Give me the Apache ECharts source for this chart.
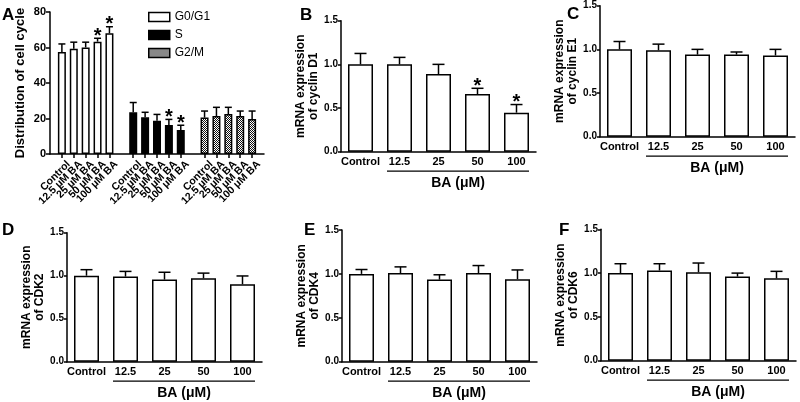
<!DOCTYPE html>
<html><head><meta charset="utf-8">
<script src="https://cdn.jsdelivr.net/npm/echarts@6/dist/echarts.min.js"></script>
<style>html,body{margin:0;padding:0;background:#fff}#c{width:800px;height:402px}</style>
</head><body><div id="c"></div>
<script>
// ---------- Panel A data ----------
const aGroups = ['G0/G1', 'S', 'G2/M'];
const aCats = ['Control', '12.5 μM BA', '25 μM BA', '50 μM BA', '100 μM BA'];
const g0g1 = [57.5, 59.3, 60.0, 63.3, 68.0];
const g0g1Err = [4.5, 3.7, 3.0, 1.9, 3.7];
const g0g1Sig = [0, 0, 0, 1, 1];
const sPhase = [23.5, 20.7, 18.8, 16.3, 13.5];
const sPhaseErr = [5.5, 2.8, 3.5, 3.2, 2.7];
const sPhaseSig = [0, 0, 0, 1, 1];
const g2m = [20.5, 21.4, 22.5, 21.4, 19.7];
const g2mErr = [3.7, 4.9, 3.8, 2.8, 4.5];
const g2mSig = [0, 0, 0, 0, 0];
const aTicks = [0, 20, 40, 60, 80];
const aYName = 'Distribution of cell cycle';

// ---------- Panels B-F data ----------
const doses = ['Control', '12.5', '25', '50', '100'];
const doseTitle = 'BA (μM)';
const bTicks = [0.0, 0.5, 1.0, 1.5];
const cyclinD1 = [1.00, 1.00, 0.89, 0.66, 0.447];
const cyclinD1Err = [0.125, 0.08, 0.11, 0.066, 0.093];
const cyclinD1Sig = [0, 0, 0, 1, 1];
const cyclinE1 = [1.00, 0.99, 0.94, 0.94, 0.93];
const cyclinE1Err = [0.09, 0.07, 0.06, 0.03, 0.07];
const cyclinE1Sig = [0, 0, 0, 0, 0];
const cdk2 = [1.00, 0.99, 0.955, 0.97, 0.90];
const cdk2Err = [0.07, 0.06, 0.085, 0.06, 0.097];
const cdk2Sig = [0, 0, 0, 0, 0];
const cdk4 = [1.00, 1.01, 0.935, 1.01, 0.94];
const cdk4Err = [0.05, 0.07, 0.055, 0.085, 0.105];
const cdk4Sig = [0, 0, 0, 0, 0];
const cdk6 = [1.00, 1.03, 1.01, 0.96, 0.94];
const cdk6Err = [0.107, 0.077, 0.105, 0.04, 0.08];
const cdk6Sig = [0, 0, 0, 0, 0];

// ---------- styling ----------
const FONT = 'Liberation Sans, Arial, Helvetica, sans-serif';
function makePattern() {
  const c = document.createElement('canvas');
  c.width = 2; c.height = 2;
  const ctx = c.getContext('2d');
  ctx.fillStyle = '#ffffff'; ctx.fillRect(0, 0, 2, 2);
  ctx.fillStyle = '#111111'; ctx.fillRect(0, 0, 1, 1); ctx.fillRect(1, 1, 1, 1);
  return { image: c, repeat: 'repeat' };
}
const fills = ['#ffffff', '#000000', makePattern()];

function errRenderer(capW, starFont, starOff) {
  return function (params, api) {
    const x = api.value(0), v = api.value(1), e = api.value(2), s = api.value(3);
    const p0 = api.coord([x, v]);
    const p1 = api.coord([x, v + e]);
    const st = { stroke: '#000', lineWidth: 1.5 };
    const ch = [
      { type: 'line', shape: { x1: p0[0], y1: p0[1], x2: p1[0], y2: p1[1] }, style: st },
      { type: 'line', shape: { x1: p1[0] - capW / 2, y1: p1[1], x2: p1[0] + capW / 2, y2: p1[1] }, style: st }
    ];
    if (s) {
      ch.push({ type: 'text', x: p1[0], y: p1[1] - starOff,
        style: { text: '*', font: 'bold ' + starFont + 'px ' + FONT, fill: '#000', align: 'center', verticalAlign: 'middle' } });
    }
    return { type: 'group', children: ch };
  };
}

const grids = [], xAxes = [], yAxes = [], series = [], graphics = [];
const axisLineStyle = { show: true, lineStyle: { color: '#000', width: 1.5 } };

// ---------- Panel A ----------
const aAxisCats = [''];
aGroups.forEach(() => { aAxisCats.push(...aCats, ''); });
grids.push({ left: 50, top: 12, width: 214, height: 142 });
xAxes.push({ type: 'category', gridIndex: 0, data: aAxisCats, boundaryGap: false,
  axisLine: axisLineStyle,
  axisTick: { show: true, length: 4, lineStyle: { color: '#000', width: 1.5 }, interval: (i, v) => v !== '' },
  axisLabel: { rotate: 45, interval: 0, margin: 2, fontSize: 10.5, fontWeight: 'bold', color: '#000', fontFamily: FONT,
    verticalAlign: 'top', padding: [4, 0, 0, 0] } });
yAxes.push({ type: 'value', gridIndex: 0, min: aTicks[0], max: aTicks[aTicks.length - 1], interval: aTicks[1] - aTicks[0],
  splitLine: { show: false }, axisLine: axisLineStyle,
  axisTick: { show: true, length: 4, lineStyle: { color: '#000', width: 1.5 } },
  axisLabel: { fontSize: 11, fontWeight: 'bold', color: '#000', margin: 4, fontFamily: FONT },
  name: aYName, nameLocation: 'middle', nameGap: 23, nameRotate: 90,
  nameTextStyle: { fontSize: 13, fontWeight: 'bold', color: '#000', fontFamily: FONT } });
const aVals = [g0g1, sPhase, g2m], aErrs = [g0g1Err, sPhaseErr, g2mErr], aSigs = [g0g1Sig, sPhaseSig, g2mSig];
aGroups.forEach((g, gi) => {
  const arr = aAxisCats.map(() => null);
  const errData = [];
  aVals[gi].forEach((v, k) => {
    const idx = 1 + gi * 6 + k;
    arr[idx] = v;
    errData.push([idx, v, aErrs[gi][k], aSigs[gi][k]]);
  });
  series.push({ type: 'bar', name: g, xAxisIndex: 0, yAxisIndex: 0, data: arr, barWidth: 8, barGap: '-100%',
    itemStyle: { color: fills[gi], borderColor: '#000', borderWidth: 1.5 }, silent: true, animation: false });
  series.push({ type: 'custom', name: g + ' err', xAxisIndex: 0, yAxisIndex: 0, data: errData, z: 5,
    encode: { x: 0, y: 1 }, renderItem: errRenderer(7, 20, 2), silent: true, animation: false });
});

// ---------- Panels B-F ----------
const panels = [
  { name: 'mRNA expression\nof cyclin D1', v: cyclinD1, e: cyclinD1Err, s: cyclinD1Sig, left: 341, top: 20.7, bottom: 151.7, letter: 'B', lx: 300, ly: 6.5 },
  { name: 'mRNA expression\nof cyclin E1', v: cyclinE1, e: cyclinE1Err, s: cyclinE1Sig, left: 600, top: 5.7, bottom: 136.7, letter: 'C', lx: 567, ly: 5.5 },
  { name: 'mRNA expression\nof CDK2', v: cdk2, e: cdk2Err, s: cdk2Sig, left: 67, top: 232.7, bottom: 361.7, letter: 'D', lx: 2, ly: 222 },
  { name: 'mRNA expression\nof CDK4', v: cdk4, e: cdk4Err, s: cdk4Sig, left: 342, top: 230, bottom: 361.7, letter: 'E', lx: 304, ly: 222 },
  { name: 'mRNA expression\nof CDK6', v: cdk6, e: cdk6Err, s: cdk6Sig, left: 601, top: 229.3, bottom: 360.7, letter: 'F', lx: 559, ly: 222 }
];
const PW = 195, BW = 25;
panels.forEach((p, i) => {
  const gi = i + 1;
  grids.push({ left: p.left, top: p.top, width: PW, height: p.bottom - p.top });
  xAxes.push({ type: 'category', gridIndex: gi, data: doses, axisLine: axisLineStyle, axisTick: { show: false },
    axisLabel: { interval: 0, margin: 5, fontSize: 11, fontWeight: 'bold', color: '#000', fontFamily: FONT } });
  yAxes.push({ type: 'value', gridIndex: gi, min: bTicks[0], max: bTicks[bTicks.length - 1], interval: bTicks[1] - bTicks[0],
    splitLine: { show: false }, axisLine: axisLineStyle,
    axisTick: { show: true, length: 3, lineStyle: { color: '#000', width: 1.5 } },
    axisLabel: { fontSize: 10, fontWeight: 'bold', color: '#000', margin: 3, fontFamily: FONT, formatter: v => v.toFixed(1) },
    name: p.name, nameLocation: 'middle', nameGap: 20, nameRotate: 90,
    nameTextStyle: { fontSize: 12, fontWeight: 'bold', color: '#000', lineHeight: 13, fontFamily: FONT } });
  series.push({ type: 'bar', name: 'p' + gi, xAxisIndex: gi, yAxisIndex: gi, data: p.v, barWidth: BW,
    itemStyle: { color: '#fff', borderColor: '#000', borderWidth: 1.5 }, silent: true, animation: false });
  series.push({ type: 'custom', name: 'p' + gi + ' err', xAxisIndex: gi, yAxisIndex: gi, z: 5,
    data: p.v.map((v, k) => [k, v, p.e[k], p.s[k]]), encode: { x: 0, y: 1 },
    renderItem: errRenderer(12, 20, 2), silent: true, animation: false });
  const slot = PW / doses.length;
  const x1 = p.left + slot + (slot - BW) / 2, x2 = p.left + PW - (slot - BW) / 2;
  graphics.push({ type: 'line', shape: { x1: x1, y1: p.bottom + 19.5, x2: x2, y2: p.bottom + 19.5 }, style: { stroke: '#000', lineWidth: 1.2 } });
  graphics.push({ type: 'text', x: (x1 + x2) / 2, y: p.bottom + 31,
    style: { text: doseTitle, font: 'bold 14px ' + FONT, fill: '#000', align: 'center', verticalAlign: 'middle' } });
  graphics.push({ type: 'text', x: p.lx, y: p.ly, style: { text: p.letter, font: 'bold 17px ' + FONT, fill: '#000' } });
});
graphics.push({ type: 'text', x: 2, y: 6.5, style: { text: 'A', font: 'bold 17px ' + FONT, fill: '#000' } });

const chart = echarts.init(document.getElementById('c'), null, { renderer: 'canvas' });
chart.setOption({
  animation: false,
  backgroundColor: '#fff',
  textStyle: { fontFamily: FONT },
  grid: grids.map(g => Object.assign({ containLabel: false, outerBoundsMode: 'none' }, g)),
  xAxis: xAxes,
  yAxis: yAxes,
  legend: { data: aGroups, orient: 'vertical', left: 143, top: 6, icon: 'rect', itemWidth: 21, itemHeight: 9, itemGap: 6,
    textStyle: { fontSize: 12, color: '#000', fontFamily: FONT }, selectedMode: false,
    itemStyle: { borderColor: '#000', borderWidth: 1.5 } },
  series: series,
  graphic: graphics
});
</script>
</body></html>
